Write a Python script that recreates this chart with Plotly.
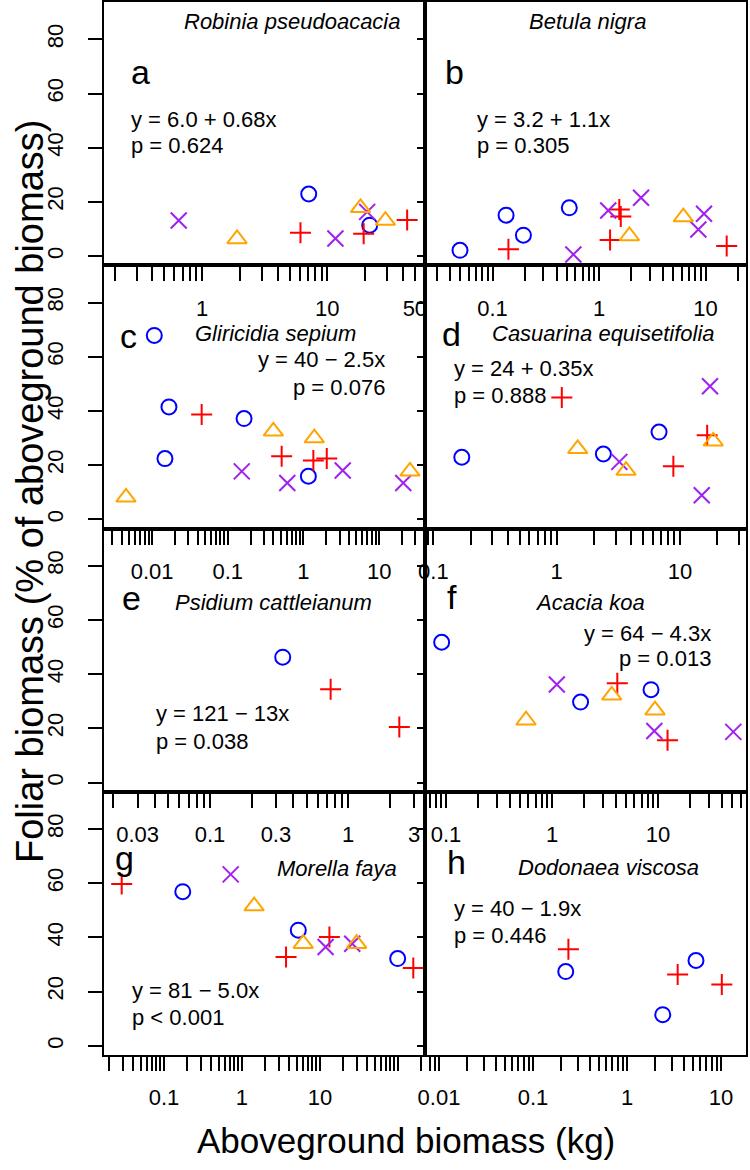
import math
import plotly.graph_objects as go
from plotly.subplots import make_subplots

# ---------------- data ----------------
# each panel: group -> (x list [kg], y list [% foliar])
robinia = {
    "circle": ([7.1, 21.8], [22.9, 11.4]),
    "plus": ([6.1, 19.5, 43.4], [8.6, 8.2, 13.3]),
    "x": ([0.65, 11.6, 20.8], [13.1, 6.5, 16.3]),
    "tri": ([1.9, 18.4, 29.1], [6.3, 17.8, 13.1]),
}
betula = {
    "circle": ([0.0495, 0.134, 0.195, 0.526], [2.1, 15.1, 7.7, 17.8]),
    "plus": ([0.141, 1.27, 1.55, 1.6, 15.8], [2.5, 5.9, 17.2, 14.6, 3.7]),
    "x": ([0.574, 1.22, 2.48, 8.56, 9.68], [0.6, 16.8, 21.5, 9.8, 15.6]),
    "tri": ([1.93, 6.19], [7.4, 14.4]),
}
gliricidia = {
    "circle": ([0.0107, 0.0167, 0.0148, 0.164, 1.16], [67.9, 41.5, 22.4, 37.2, 15.9]),
    "plus": ([0.0452, 0.515, 1.35, 2.03], [38.7, 23.3, 21.7, 22.4]),
    "x": ([0.153, 0.611, 3.3, 20.8], [17.7, 13.4, 18.0, 13.4]),
    "tri": ([0.00452, 0.40, 1.39, 25.5], [8.1, 32.5, 30.0, 17.7]),
}
casuarina = {
    "circle": ([0.170, 2.39, 6.76], [22.9, 24.1, 32.2]),
    "plus": ([1.10, 8.83, 16.6], [45.0, 19.6, 31.0]),
    "x": ([3.22, 15.0, 17.5], [21.2, 8.9, 49.1]),
    "tri": ([1.48, 3.65, 18.6], [26.0, 18.0, 28.8]),
}
psidium = {
    "circle": ([0.336], [46.3]),
    "plus": ([0.746, 2.34], [34.4, 20.5]),
}
acacia = {
    "circle": ([0.091, 1.86, 8.59], [51.8, 29.7, 34.3]),
    "plus": ([4.13, 12.3], [36.7, 15.6]),
    "x": ([1.11, 9.23, 51.3], [36.2, 19.0, 18.7]),
    "tri": ([0.569, 3.66, 9.37], [23.0, 32.2, 26.7]),
}
morella = {
    "circle": ([0.174, 5.27, 99.0], [56.9, 42.7, 32.2]),
    "plus": ([0.0287, 3.67, 13.2, 157.0], [59.7, 32.8, 40.2, 28.7]),
    "x": ([0.716, 11.8, 25.9], [63.3, 36.5, 37.7]),
    "tri": ([1.43, 6.1, 29.5], [51.6, 37.7, 37.7]),
}
dodonaea = {
    "circle": ([0.223, 2.4, 5.42], [27.4, 11.5, 31.5]),
    "plus": ([0.238, 3.46, 10.2], [35.6, 26.3, 22.6]),
}

species = ["Robinia pseudoacacia", "Betula nigra", "Gliricidia sepium",
           "Casuarina equisetifolia", "Psidium cattleianum", "Acacia koa",
           "Morella faya", "Dodonaea viscosa"]
letters = ["a", "b", "c", "d", "e", "f", "g", "h"]
equations = ["y = 6.0 + 0.68x", "y = 3.2 + 1.1x", "y = 40 \u2212 2.5x",
             "y = 24 + 0.35x", "y = 121 \u2212 13x", "y = 64 \u2212 4.3x",
             "y = 81 \u2212 5.0x", "y = 40 \u2212 1.9x"]
pvalues = ["p = 0.624", "p = 0.305", "p = 0.076", "p = 0.888",
           "p = 0.038", "p = 0.013", "p < 0.001", "p = 0.446"]

# labelled x ticks per panel
xlabels = [[1, 10, 50], [0.1, 1, 10], [0.01, 0.1, 1, 10], [0.1, 1, 10],
           [0.03, 0.1, 0.3, 1, 3], [0.1, 1, 10, 60], [0.1, 1, 10],
           [0.01, 0.1, 1, 10]]
ytick_vals = [0, 20, 40, 60, 80]

panels = [robinia, betula, gliricidia, casuarina, psidium, acacia, morella, dodonaea]

# ---------------- layout / style ----------------
W, H = 750, 1170
ML, MR, MT, MB = 104, 4, 2, 115
PW, PH = W - ML - MR, H - MT - MB

# log10 x ranges per panel (matching reference scaling)
xranges = [[-0.784, 1.78], [-1.634, 1.380], [-2.635, 1.605], [-1.068, 1.535],
           [-1.766, 0.555], [-1.198, 1.830], [-1.769, 2.346], [-2.149, 1.266]]
yrange = [-3.4, 93.8]

FONT = "Liberation Sans, Arial, Helvetica, sans-serif"
styles = {
    "circle": dict(symbol="circle-open", size=15, color="#0000FF", lw=2),
    "plus": dict(symbol="cross-thin-open", size=15, color="#FF0000", lw=2),
    "x": dict(symbol="x-thin-open", size=16, color="#A020F0", lw=2),
    "tri": dict(symbol="triangle-up-open", size=17, color="#FFA500", lw=2),
}
order = ["circle", "plus", "x", "tri"]

fig = make_subplots(rows=4, cols=2, horizontal_spacing=0, vertical_spacing=0)

for i, pdata in enumerate(panels):
    r, c = i // 2 + 1, i % 2 + 1
    for g in order:
        if g not in pdata:
            continue
        xs, ys = pdata[g]
        st = styles[g]
        fig.add_trace(go.Scatter(
            x=xs, y=ys, mode="markers", showlegend=False, hoverinfo="skip",
            cliponaxis=False,
            marker=dict(symbol=st["symbol"], size=st["size"], color=st["color"],
                        line=dict(width=st["lw"], color=st["color"])),
        ), row=r, col=c)

    lo, hi = xranges[i]
    tv, tt = [], []
    for k in range(math.floor(lo) - 1, math.ceil(hi) + 1):
        for m in range(1, 10):
            v = m * 10 ** k
            lv = math.log10(v)
            if lo <= lv <= hi:
                tv.append(v)
                lab = ""
                for L in xlabels[i]:
                    if abs(math.log10(L) - lv) < 1e-9:
                        lab = f"{L:g}"
                tt.append(lab)
    fig.update_xaxes(type="log", range=[lo, hi], tickmode="array", tickvals=tv,
                     ticktext=tt, ticks="outside", ticklen=14, tickwidth=2,
                     tickcolor="black", showline=True, mirror=True, linewidth=2,
                     linecolor="black", showgrid=False, zeroline=False,
                     ticklabelstandoff=8, automargin=False,
                     tickfont=dict(family=FONT, size=22, color="black"),
                     row=r, col=c)
    if c == 1:
        fig.update_yaxes(range=yrange, tickmode="array", tickvals=ytick_vals,
                         ticks="outside", ticklen=14, tickwidth=2, tickcolor="black",
                         tickangle=-90, ticklabelstandoff=16, automargin=False,
                         tickfont=dict(family=FONT, size=22, color="black"),
                         showline=True, mirror=True, linewidth=2, linecolor="black",
                         showgrid=False, zeroline=False, row=r, col=c)
    else:
        fig.update_yaxes(range=yrange, tickmode="array", tickvals=ytick_vals,
                         ticks="outside", ticklen=6, tickwidth=2, tickcolor="black",
                         showticklabels=False, showline=True, mirror=True,
                         linewidth=2, linecolor="black", showgrid=False,
                         zeroline=False, automargin=False, row=r, col=c)


def px2paper(px, py):
    return (px - ML) / PW, (H - MB - py) / PH


annotations = []


def ann(px, py, text, size, xanchor="left", italic=False, angle=0):
    x, y = px2paper(px, py)
    if italic:
        text = "<i>" + text + "</i>"
    annotations.append(dict(x=x, y=y, xref="paper", yref="paper", text=text,
                            showarrow=False, xanchor=xanchor, yanchor="middle",
                            textangle=angle,
                            font=dict(family=FONT, size=size, color="black")))


# (letter pos, species pos, equation pos/anchor)
text_pos = [
    ((129, 72), (292, 22), (129, 119, 146, "left")),
    ((443, 72), (587, 22), (475, 119, 146, "left")),
    ((118, 336), (275, 333), (387, 360, 387, "right")),
    ((440, 334), (603, 333), (452, 368, 395, "left")),
    ((120, 598), (273, 603), (154, 713, 741, "left")),
    ((445, 597), (590, 603), (713, 633, 658, "right")),
    ((113, 858), (337, 868), (130, 990, 1017, "left")),
    ((445, 862), (608, 867), (452, 908, 935, "left")),
]
for i in range(8):
    (lx, ly), (sx, sy), (ex, ey, py_, anc) = text_pos[i]
    ann(lx, ly, letters[i], 34)
    ann(sx, sy, species[i], 22, xanchor="center", italic=True)
    ann(ex, ey, equations[i], 22, xanchor=anc)
    ann(ex, py_, pvalues[i], 22, xanchor=anc)

ann(406, 1140, "Aboveground biomass (kg)", 35, xanchor="center")
ann(30, 492, "Foliar biomass (% of aboveground biomass)", 38, xanchor="center", angle=-90)

fig.update_layout(width=W, height=H, margin=dict(l=ML, r=MR, t=MT, b=MB, autoexpand=False),
                  paper_bgcolor="white", plot_bgcolor="rgba(0,0,0,0)",
                  annotations=annotations, showlegend=False,
                  font=dict(family=FONT, color="black"))

fig.write_html("out.html", config={"displayModeBar": False},
               post_script="document.body.style.margin='0';document.body.style.overflow='hidden';")
